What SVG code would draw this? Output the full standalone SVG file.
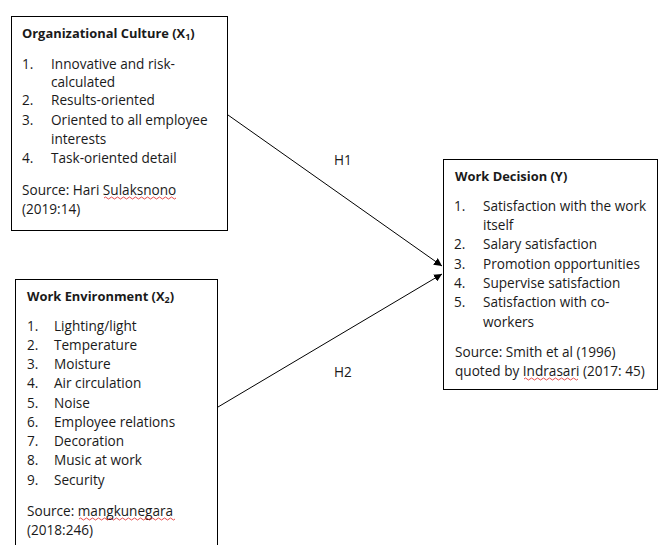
<svg xmlns="http://www.w3.org/2000/svg" width="658" height="545" viewBox="0 0 658 545">
<style>
.box{fill:#fff;stroke:#000;stroke-width:1}
text{font-family:"Open Sans","Liberation Sans",Arial,sans-serif;font-size:13.6px;fill:#1a1a1a}
.t{font-weight:bold;font-size:12.9px}
.conn{stroke:#000;stroke-width:1;fill:none}
.sq{stroke:#e02020;stroke-width:0.8;fill:none}
</style>
<defs>
<marker id="ah" viewBox="0 0 10 10" refX="10" refY="5" markerWidth="8" markerHeight="8" markerUnits="userSpaceOnUse" orient="auto">
<path d="M0,0 L10,5 L0,10 z" fill="#000"/>
</marker>
</defs>
<rect width="658" height="545" fill="#fff"/>
<g id="connectors">
<line class="conn" x1="228" y1="115" x2="442" y2="266" marker-end="url(#ah)"/>
<line class="conn" x1="218" y1="407" x2="442" y2="274" marker-end="url(#ah)"/>
<text x="334" y="165">H1</text>
<text x="334" y="377">H2</text>
</g>
<g id="org-culture">
<rect class="box" x="11.5" y="16.5" width="216" height="214"/>
<text class="t" x="22" y="38">Organizational Culture (X<tspan font-size="9" dy="2">1</tspan><tspan dy="-2">)</tspan></text>
<text x="22" y="69">1.</text><text x="51" y="69">Innovative and risk-</text>
<text x="51" y="87">calculated</text>
<text x="22" y="105">2.</text><text x="51" y="105">Results-oriented</text>
<text x="22" y="125">3.</text><text x="51" y="125">Oriented to all employee</text>
<text x="51" y="144">interests</text>
<text x="22" y="163">4.</text><text x="51" y="163">Task-oriented detail</text>
<text x="22" y="195">Source: Hari Sulaksnono</text>
<text x="22" y="214">(2019:14)</text>
<path class="sq" d="M104,198 q1.5,-2 3,0 t3,0 t3,0 t3,0 t3,0 t3,0 t3,0 t3,0 t3,0 t3,0 t3,0 t3,0 t3,0 t3,0 t3,0 t3,0 t3,0 t3,0 t3,0 t3,0 t3,0 t3,0 t3,0 t3,0"/>
</g>
<g id="work-env">
<rect class="box" x="15.5" y="279.5" width="202" height="270"/>
<text class="t" x="27" y="301">Work Environment (X<tspan font-size="9" dy="2">2</tspan><tspan dy="-2">)</tspan></text>
<text x="27" y="331">1.</text><text x="54" y="331">Lighting/light</text>
<text x="27" y="350">2.</text><text x="54" y="350">Temperature</text>
<text x="27" y="369">3.</text><text x="54" y="369">Moisture</text>
<text x="27" y="388">4.</text><text x="54" y="388">Air circulation</text>
<text x="27" y="408">5.</text><text x="54" y="408">Noise</text>
<text x="27" y="427">6.</text><text x="54" y="427">Employee relations</text>
<text x="27" y="446">7.</text><text x="54" y="446">Decoration</text>
<text x="27" y="465">8.</text><text x="54" y="465">Music at work</text>
<text x="27" y="485">9.</text><text x="54" y="485">Security</text>
<text x="27" y="516">Source: mangkunegara</text>
<text x="27" y="535">(2018:246)</text>
<path class="sq" d="M79,519 q1.5,-2 3,0 t3,0 t3,0 t3,0 t3,0 t3,0 t3,0 t3,0 t3,0 t3,0 t3,0 t3,0 t3,0 t3,0 t3,0 t3,0 t3,0 t3,0 t3,0 t3,0 t3,0 t3,0 t3,0 t3,0 t3,0 t3,0 t3,0 t3,0 t3,0 t3,0 t3,0 t3,0"/>
</g>
<g id="work-decision">
<rect class="box" x="443.5" y="159.5" width="214" height="230"/>
<text class="t" x="455" y="181">Work Decision (Y)</text>
<text x="454" y="211">1.</text><text x="483" y="211">Satisfaction with the work</text>
<text x="483" y="230">itself</text>
<text x="454" y="249">2.</text><text x="483" y="249">Salary satisfaction</text>
<text x="454" y="269">3.</text><text x="483" y="269">Promotion opportunities</text>
<text x="454" y="288">4.</text><text x="483" y="288">Supervise satisfaction</text>
<text x="454" y="307">5.</text><text x="483" y="307">Satisfaction with co-</text>
<text x="483" y="327">workers</text>
<text x="455" y="357">Source: Smith et al (1996)</text>
<text x="455" y="376">quoted by Indrasari (2017: 45)</text>
<path class="sq" d="M524,379 q1.5,-2 3,0 t3,0 t3,0 t3,0 t3,0 t3,0 t3,0 t3,0 t3,0 t3,0 t3,0 t3,0 t3,0 t3,0 t3,0 t3,0 t3,0 t3,0"/>
</g>
</svg>
